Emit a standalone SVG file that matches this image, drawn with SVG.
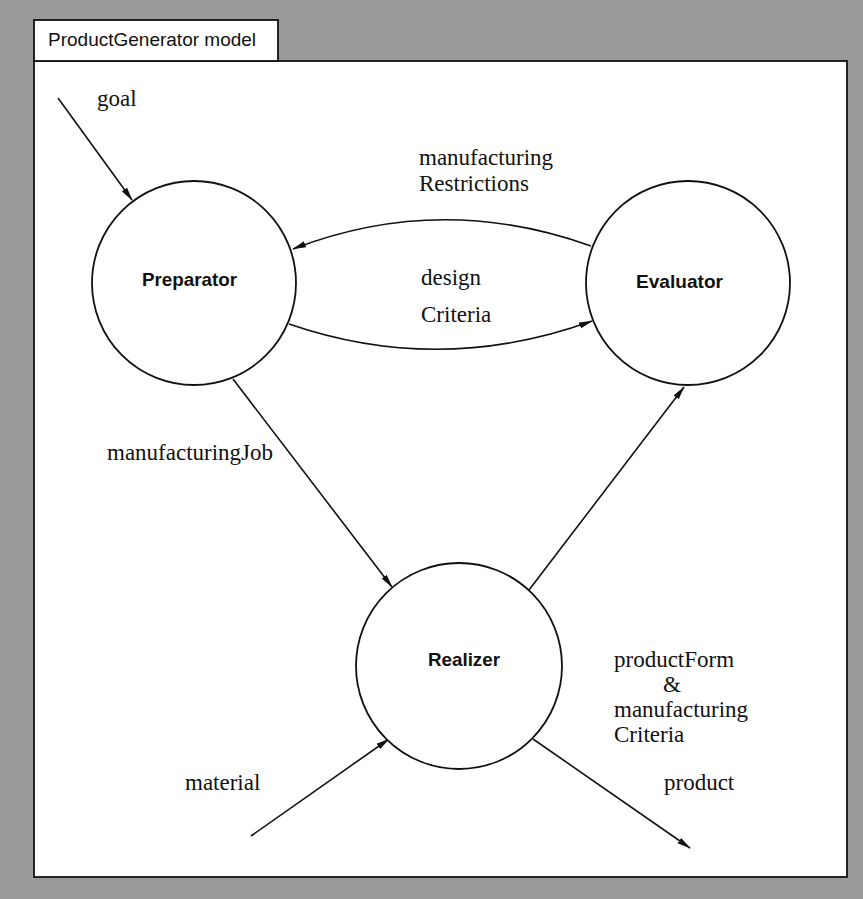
<svg xmlns="http://www.w3.org/2000/svg" width="863" height="899" viewBox="0 0 863 899">
<defs>
<style>
.node{fill:#fff;stroke:#111;stroke-width:1.8}
.nl{font-family:"Liberation Sans",Arial,sans-serif;font-weight:bold;font-size:19px;fill:#111}
.lb{font-family:"Liberation Serif","Times New Roman",serif;font-size:23px;fill:#111}
.c{fill:none;stroke:#111;stroke-width:1.6}
</style>
<marker id="ah" viewBox="0 0 14 8" refX="13" refY="4" markerWidth="14" markerHeight="8" markerUnits="userSpaceOnUse" orient="auto">
<path d="M0,0.8 L14,4 L0,7.2 Z" fill="#111"/>
</marker>
</defs>
<rect x="0" y="0" width="863" height="899" fill="#9a9a9a"/>
<g id="frame">
<rect x="34" y="61" width="813" height="816" fill="#fff" stroke="#111" stroke-width="1.8"/>
<rect x="34" y="20" width="244" height="41" fill="#fff" stroke="#111" stroke-width="1.8"/>
<text x="48" y="46" font-family="'Liberation Sans',Arial,sans-serif" font-size="19" fill="#111">ProductGenerator model</text>
</g>
<g id="connectors">
<line class="c" x1="58" y1="98" x2="132" y2="200" marker-end="url(#ah)"/>
<path class="c" d="M591,246 Q440,192 293,249" marker-end="url(#ah)"/>
<path class="c" d="M289,324 Q440,376 592,321" marker-end="url(#ah)"/>
<line class="c" x1="233" y1="379" x2="392" y2="587" marker-end="url(#ah)"/>
<line class="c" x1="529" y1="590" x2="684" y2="387" marker-end="url(#ah)"/>
<line class="c" x1="251" y1="836" x2="389" y2="739" marker-end="url(#ah)"/>
<line class="c" x1="533" y1="739" x2="690" y2="848" marker-end="url(#ah)"/>
</g>
<g id="labels">
<text class="lb" x="97" y="106">goal</text>
<text class="lb" x="419" y="165">manufacturing</text>
<text class="lb" x="419" y="191">Restrictions</text>
<text class="lb" x="421" y="285">design</text>
<text class="lb" x="421" y="322">Criteria</text>
<text class="lb" x="107" y="460">manufacturingJob</text>
<text class="lb" x="614" y="667">productForm</text>
<text class="lb" x="663" y="692">&amp;</text>
<text class="lb" x="614" y="717">manufacturing</text>
<text class="lb" x="614" y="742">Criteria</text>
<text class="lb" x="185" y="790">material</text>
<text class="lb" x="664" y="790">product</text>
</g>
<g id="preparator">
<circle class="node" cx="194" cy="283" r="102"/>
<text class="nl" x="142" y="286" textLength="95" lengthAdjust="spacingAndGlyphs">Preparator</text>
</g>
<g id="evaluator">
<circle class="node" cx="688" cy="283" r="102"/>
<text class="nl" x="636" y="288" textLength="87" lengthAdjust="spacingAndGlyphs">Evaluator</text>
</g>
<g id="realizer">
<circle class="node" cx="459" cy="666" r="103"/>
<text class="nl" x="428" y="666" textLength="72" lengthAdjust="spacingAndGlyphs">Realizer</text>
</g>
</svg>
